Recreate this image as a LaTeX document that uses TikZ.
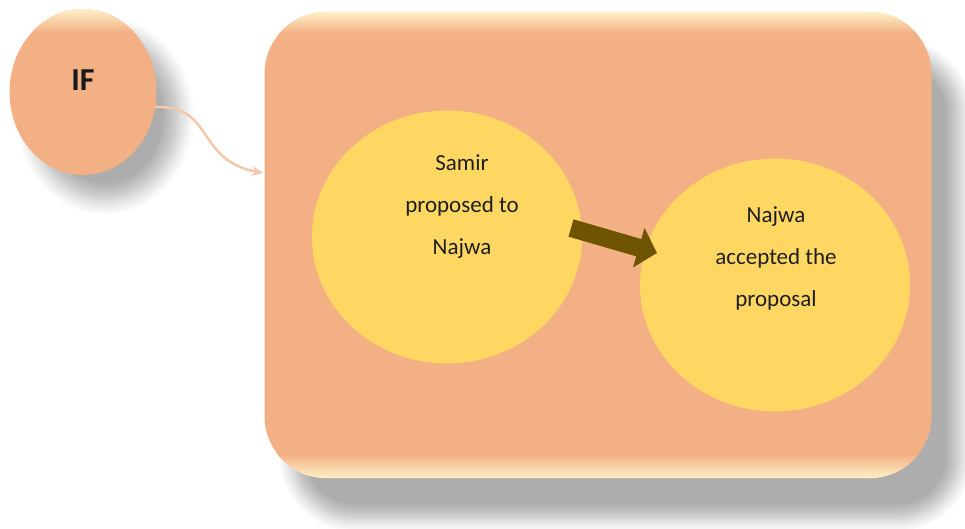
\documentclass[tikz,border=0pt]{standalone}
\usepackage{fontspec}
\setmainfont{Carlito}
\usetikzlibrary{shapes.geometric,arrows.meta,shadows.blur}
\definecolor{peach}{RGB}{242,176,132}
\definecolor{sun}{RGB}{253,215,98}
\definecolor{olive}{RGB}{110,84,0}
\definecolor{lightpeach}{RGB}{246,200,170}
\definecolor{cream}{RGB}{255,240,200}
\tikzset{
  ifbubble/.style={ellipse, fill=peach, minimum width=147pt, minimum height=166pt, inner sep=0pt,
    blur shadow={shadow xshift=22pt, shadow yshift=-24pt, shadow blur steps=10, shadow blur radius=16pt, shadow opacity=32}},
  panel/.style={rectangle, rounded corners=62pt, fill=peach, minimum width=667pt, minimum height=466pt, inner sep=0pt,
    blur shadow={shadow xshift=28pt, shadow yshift=-40pt, shadow blur steps=10, shadow blur radius=14pt, shadow opacity=32}},
  bubble/.style={ellipse, fill=sun, minimum width=270pt, minimum height=253pt, inner sep=0pt},
  btext/.style={align=center, font=\fontsize{23}{42}\selectfont, text=black!88},
}
\begin{document}
\begin{tikzpicture}[x=1pt,y=-1pt]
\useasboundingbox (0,0) rectangle (965,529);
\node[panel] (box) at (598,245) {};
\begin{scope}
  \clip[rounded corners=62pt] (box.north west) rectangle (box.south east);
  \shade[top color=cream, bottom color=peach] (box.north west) rectangle ([yshift=-22pt]box.north east);
  \shade[top color=peach, bottom color=cream] ([yshift=24pt]box.south west) rectangle (box.south east);
\end{scope}
\node[ifbubble] (if) at (83,92) {};
\begin{scope}
  \clip (if.center) ellipse [x radius=73.5pt, y radius=83pt];
  \shade[top color=cream, bottom color=peach] ([xshift=-80pt]if.north) rectangle ([xshift=80pt,yshift=-24pt]if.north);
\end{scope}
\node[font=\fontsize{32}{32}\selectfont\bfseries, text=black!90] (iflabel) at (83,80) {IF};
\node[bubble] (s1) at (447,237) {};
\node[bubble] (s2) at (775,285) {};
\node[btext] (t1) at (462,207) {Samir\\proposed to\\Najwa};
\node[btext] (t2) at (776,258) {Najwa\\accepted the\\proposal};
\coordinate (ifout) at (155,107);
\coordinate (boxin) at (263,173);
\draw[lightpeach, line width=2.5pt, -{Stealth[length=11pt,width=10pt]}]
  (ifout) .. controls (215,105) and (195,160) .. (boxin);
\coordinate (ar1) at (571,228);
\coordinate (ar2) at (657,253);
\draw[olive, line width=18pt, -{Triangle[length=19pt,width=40pt]}] (ar1) -- (ar2);
\end{tikzpicture}
\end{document}
